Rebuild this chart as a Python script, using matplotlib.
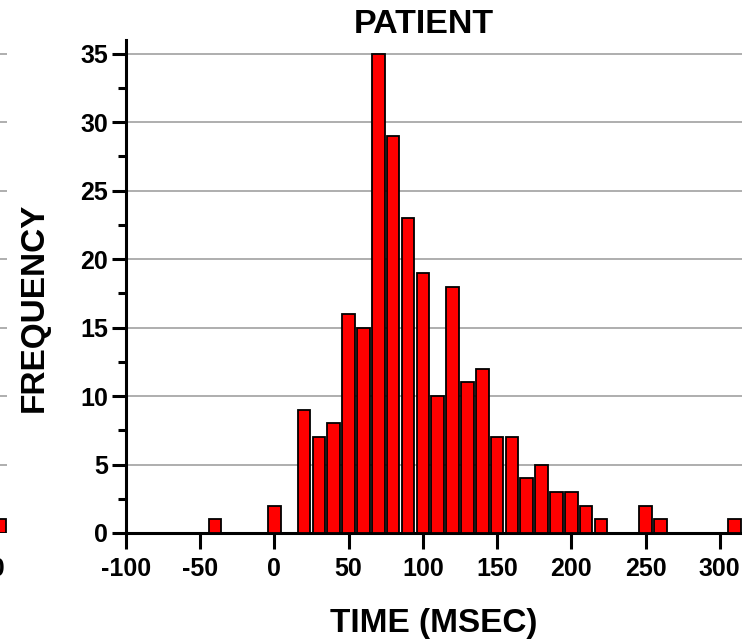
import numpy as np
import matplotlib.pyplot as plt
from matplotlib.ticker import MultipleLocator

plt.rcParams['font.family'] = ['Liberation Sans', 'DejaVu Sans']
plt.rcParams['font.weight'] = 'bold'
plt.rcParams['axes.unicode_minus'] = False

# Patient histogram (bin centre in msec, count)
times = [-40, 0, 20, 30, 40, 50, 60, 70, 80, 90, 100, 110, 120, 130, 140,
         150, 160, 170, 180, 190, 200, 210, 220, 250, 260, 310]
counts = [1, 2, 9, 7, 8, 16, 15, 35, 29, 23, 19, 10, 18, 11, 12,
          7, 7, 4, 5, 3, 3, 2, 1, 2, 1, 1]

# neighbouring panel, only its right edge shows in the crop
side_times = [310]
side_counts = [1]

xticks = [-100, -50, 0, 50, 100, 150, 200, 250, 300]
yticks = [0, 5, 10, 15, 20, 25, 30, 35]

W, H = 742, 642
fig = plt.figure(figsize=(W / 100, H / 100), dpi=100)


def style_axes(ax):
    ax.set_xlim(-100, 315)
    ax.set_ylim(0, 36)
    ax.set_xticks(xticks)
    ax.set_yticks(yticks)
    ax.yaxis.set_minor_locator(MultipleLocator(2.5))
    ax.spines['top'].set_visible(False)
    ax.spines['right'].set_visible(False)
    for s in ('left', 'bottom'):
        ax.spines[s].set_linewidth(2.2)
    ax.tick_params(axis='both', which='major', labelsize=18, width=2.2, color='black')
    ax.tick_params(axis='y', which='major', length=10, pad=3)
    ax.tick_params(axis='y', which='minor', length=6, width=2.2)
    ax.tick_params(axis='x', which='major', length=11.5, pad=6)
    ax.grid(axis='y', color='#a8a8a8', lw=1.3)
    ax.set_axisbelow(True)


bottom = 1 - 533 / H
top = 1 - 40 / H

# left neighbour panel (mostly off the canvas)
ax0 = fig.add_axes([(126 - 735) / W, bottom, 616 / W, top - bottom])
style_axes(ax0)
ax0.bar(side_times, side_counts, width=8.5, color='#ff0000', edgecolor='black', lw=1.3)
ax0.spines['bottom'].set_visible(False)
ax0.set_xticks([300])
ax0.tick_params(axis='y', labelleft=False)

# main panel
ax = fig.add_axes([126 / W, bottom, 616 / W, top - bottom])
style_axes(ax)
ax.bar(times, counts, width=8.5, color='#ff0000', edgecolor='black', lw=1.3, zorder=3)
ax.set_title('PATIENT', fontsize=24.5, fontweight='bold', x=0.483, pad=-2)
ax.set_xlabel('TIME (MSEC)', fontsize=24, fontweight='bold', labelpad=19)
ax.set_ylabel('FREQUENCY', fontsize=24, fontweight='bold', labelpad=22)
ax.yaxis.label.set_y(0.457)

fig.savefig('out.png', dpi=100)
